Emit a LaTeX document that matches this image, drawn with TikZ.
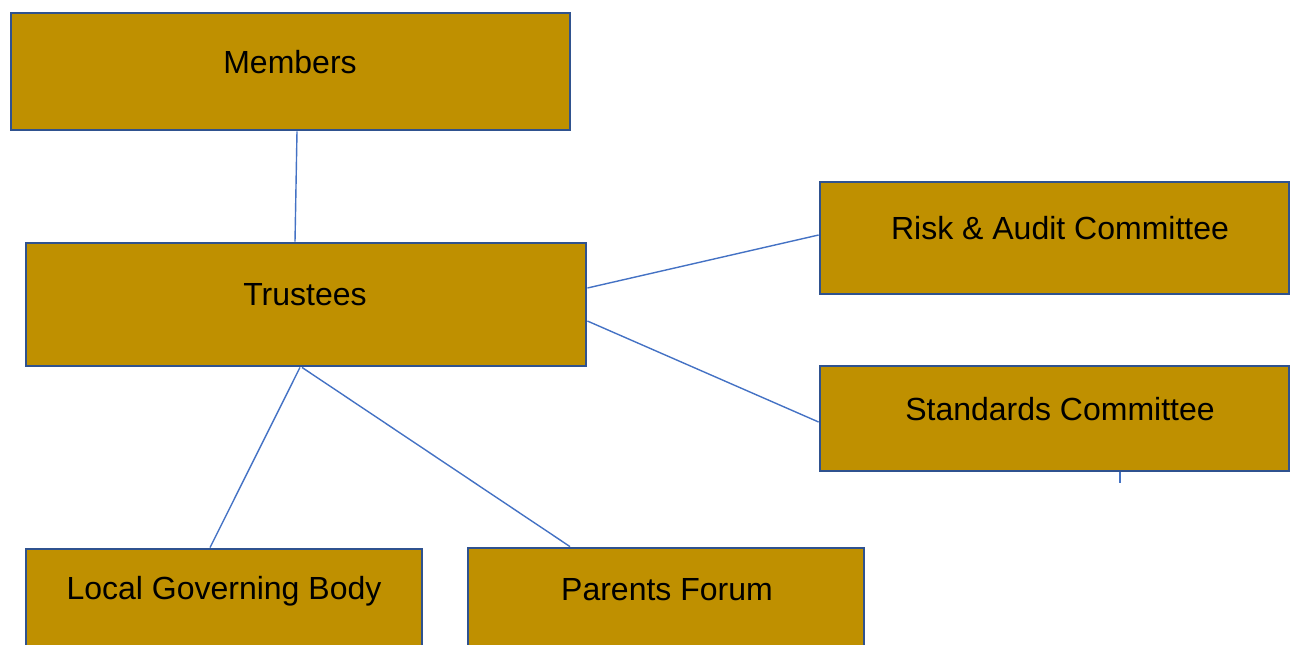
\documentclass[tikz,border=0pt]{standalone}
\usepackage{fontspec}
\setmainfont{Liberation Sans}
\usetikzlibrary{calc}
\definecolor{gold}{HTML}{BF9000}
\definecolor{boxborder}{HTML}{2F528F}
\definecolor{linkblue}{HTML}{4472C4}
\begin{document}
\begin{tikzpicture}[x=0.5pt,y=-0.5pt,
  box/.style={draw=boxborder, line width=1.4pt, fill=gold, inner sep=0pt, rectangle},
  lbl/.style={font=\fontsize{16}{19}\selectfont, text=black, inner sep=0pt},
  link/.style={draw=linkblue, line width=0.7pt}]
\useasboundingbox (0,0) rectangle (1290,644);
\clip (0,0) rectangle (1290,644);
% boxes
\node[box, minimum width=279.5pt, minimum height=58.5pt] (members) at (290.5,71.5) {};
\node[box, minimum width=280pt, minimum height=61.5pt] (trustees) at (306,304.5) {};
\node[box, minimum width=234.5pt, minimum height=56pt] (risk) at (1054.5,238) {};
\node[box, minimum width=234.5pt, minimum height=52.5pt] (standards) at (1054.5,418.5) {};
\node[box, minimum width=198pt, minimum height=75.5pt] (lgb) at (224,624.5) {};
\node[box, minimum width=198pt, minimum height=76pt] (parents) at (666,624) {};
% labels
\node[lbl] (tmembers) at (290,62) {Members};
\node[lbl] (ttrustees) at (305,295) {Trustees};
\node[lbl] (trisk) at (1060,228) {Risk \& Audit Committee};
\node[lbl] (tstandards) at (1060,409) {Standards Committee};
\node[lbl] (tlgb) at (224,591) {Local Governing Body};
\node[lbl] (tparents) at (667,590) {Parents Forum};
% connectors
\draw[link] ([xshift=3.25pt]members.south) -- ([xshift=-5.5pt]trustees.north);
\draw[link] ([yshift=8.25pt]trustees.east) -- ([yshift=1.5pt]risk.west);
\draw[link] ([yshift=-8.25pt]trustees.east) -- ([yshift=-1.75pt]standards.west);
\draw[link] ([xshift=-3pt]trustees.south) -- ([xshift=-7pt]lgb.north);
\draw[link] ([xshift=-2pt]trustees.south) -- ([xshift=-48pt]parents.north);
\coordinate (stub) at (1120,483);
\draw[link] (standards.south -| stub) -- (stub);
\end{tikzpicture}
\end{document}
